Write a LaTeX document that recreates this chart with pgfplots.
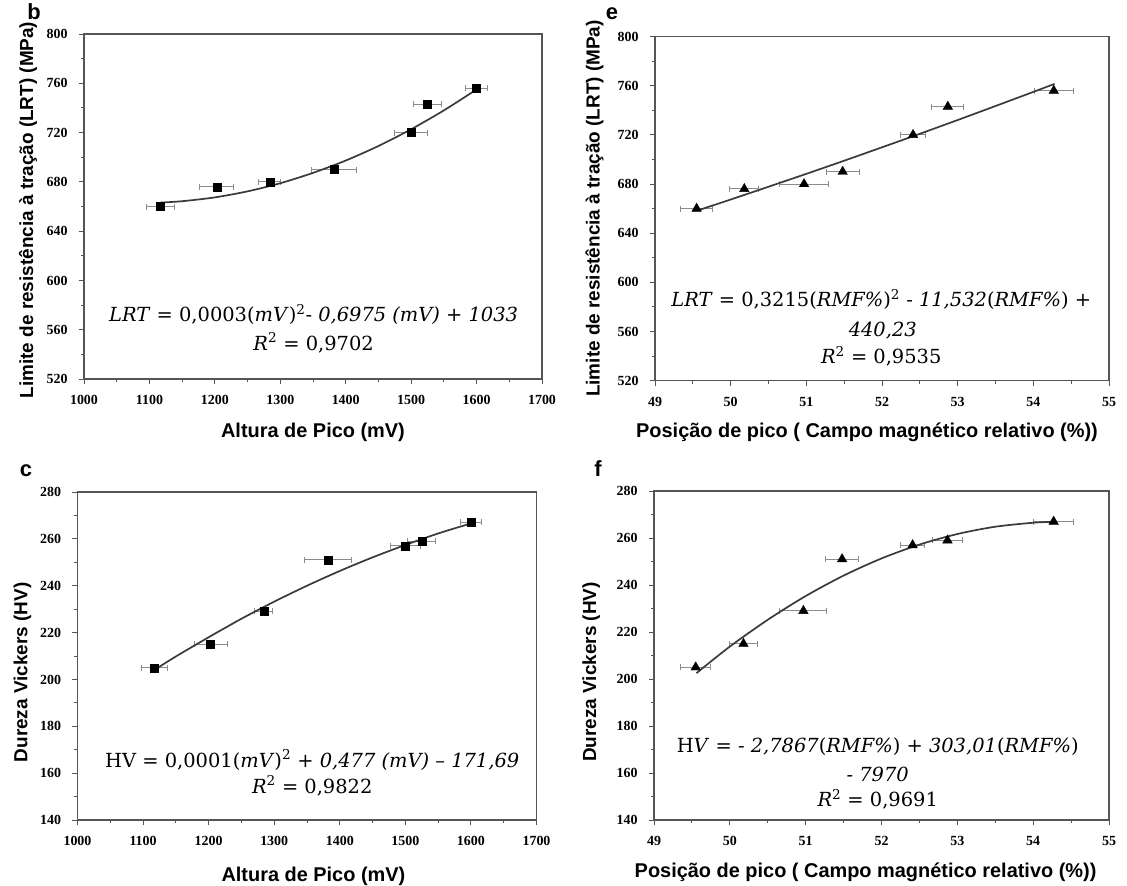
\documentclass[border=0pt]{standalone}
\usepackage{fontspec}
\setmainfont{Liberation Serif}
\setsansfont{Liberation Sans}
\newfontfamily\eqfont{DejaVu Serif}
\usepackage{pgfplots}
\pgfplotsset{compat=1.18}

\definecolor{boxgray}{HTML}{555555}
\definecolor{fitgray}{HTML}{3A3A3A}
\definecolor{errgray}{HTML}{8C8C8C}

\pgfplotsset{
  panel/.style={
    scale only axis,
    axis line style={boxgray, line width=1.7bp},
    tick style={boxgray, line width=1bp},
    tick align=outside,
    xtick pos=bottom, ytick pos=left,
    major tick length=5bp, minor tick length=3bp,
    minor tick num=1,
    tick label style={font=\fontsize{14}{16}\selectfont\bfseries},
    /pgf/number format/assume math mode=true,
    /pgf/number format/1000 sep={},
    xticklabel style={yshift=-8bp},
    yticklabel style={xshift=-8bp},
    xlabel style={font=\fontsize{20}{23}\selectfont\sffamily\bfseries},
    ylabel style={font=\fontsize{19}{22}\selectfont\sffamily\bfseries},
    clip=false,
  },
  errx/.style={
    only marks, mark=none,
    error bars/.cd, x dir=both, x explicit,
    error bar style={draw=errgray, line width=1bp},
    error mark options={draw=errgray, rotate=90, mark size=3bp, line width=1bp},
  },
  fit/.style={fitgray, line width=1.7bp, smooth, mark=none},
  sqpt/.style={only marks, mark=square*, mark size=4bp, black},
  tript/.style={only marks, mark=triangle*, mark size=5.5bp, black},
}
\newcommand{\eqsize}{\eqfont\fontsize{19.5}{22}\selectfont}

\begin{document}
\begin{tikzpicture}
\path[use as bounding box] (0,0) rectangle (1127bp,-886bp);

% ---------------- b : LRT vs peak height ----------------
\begin{axis}[panel, at={(84bp,-379bp)}, anchor=south west,
  width=458bp, height=345bp,
  xmin=1000, xmax=1700, ymin=520, ymax=800,
  xtick={1000,1100,...,1700}, ytick={520,560,...,800},
  xlabel={Altura de Pico (mV)},
  ylabel={Limite de resistência à tração (LRT) (MPa)},
  xlabel style={at={(axis description cs:0.5,-0.155)}, anchor=center},
  ylabel style={at={(axis description cs:-0.122,0.49)}, anchor=center}]
\addplot[errx] coordinates {
  (1117,660) +- (21,0)
  (1203,676) +- (26,0)
  (1284,680) +- (17,0)
  (1382,690) +- (35,0)
  (1500,720) +- (25,0)
  (1525,743) +- (21,0)
  (1600,756) +- (17,0)
};
\addplot[fit] coordinates {
  (1117,663.2) (1150,664.3) (1200,667.4) (1250,672.3) (1300,678.9)
  (1350,687.3) (1400,697.3) (1450,709.1) (1500,722.7) (1550,738.0)
  (1600,755.0)
};
\addplot[sqpt] coordinates {
  (1117,660) (1203,676) (1284,680) (1382,690) (1500,720) (1525,743) (1600,756)
};
\node[font=\eqsize] at (axis cs:1351,572.5)
  {\textit{LRT} = 0,0003(\textit{mV})\textsuperscript{2}- \textit{0,6975 (mV) + 1033}};
\node[font=\eqsize] at (axis cs:1351,549.4)
  {\textit{R}\textsuperscript{2} = 0,9702};
\end{axis}

% ---------------- e : LRT vs peak position ----------------
\begin{axis}[panel, at={(655bp,-380.6bp)}, anchor=south west,
  width=454bp, height=344bp,
  xmin=49, xmax=55, ymin=520, ymax=800,
  xtick={49,...,55}, ytick={520,560,...,800},
  xlabel={Posição de pico ( Campo magnético relativo (\%))},
  ylabel={Limite de resistência à tração (LRT) (MPa)},
  xlabel style={at={(axis description cs:0.467,-0.149)}, anchor=center},
  ylabel style={at={(axis description cs:-0.133,0.5)}, anchor=center}]
\addplot[errx] coordinates {
  (49.55,660) +- (0.21,0)
  (50.18,676) +- (0.19,0)
  (50.97,680) +- (0.32,0)
  (51.48,690) +- (0.22,0)
  (52.41,720) +- (0.16,0)
  (52.87,743) +- (0.21,0)
  (54.27,756) +- (0.26,0)
};
\addplot[fit] coordinates {
  (49.56,658.4) (50.0,667.4) (50.5,677.8) (51.0,688.3) (51.5,699.0)
  (52.0,709.9) (52.5,720.9) (53.0,732.1) (53.5,743.5) (54.0,755.0)
  (54.28,761.5)
};
\addplot[tript] coordinates {
  (49.55,660) (50.18,676) (50.97,680) (51.48,690) (52.41,720) (52.87,743) (54.27,756)
};
\node[font=\eqsize] at (axis cs:51.99,586)
  {\textit{LRT} = 0,3215(\textit{RMF\%})\textsuperscript{2} - \textit{11,532}(\textit{RMF\%}) \textit{+}};
\node[font=\eqsize] at (axis cs:52.01,560.3) {\textit{440,23}};
\node[font=\eqsize] at (axis cs:51.99,540)
  {\textit{R}\textsuperscript{2} = 0,9535};
\end{axis}

% ---------------- c : hardness vs peak height ----------------
\begin{axis}[panel, at={(77.5bp,-820bp)}, anchor=south west,
  width=459bp, height=328bp,
  xmin=1000, xmax=1700, ymin=140, ymax=280,
  xtick={1000,1100,...,1700}, ytick={140,160,...,280},
  xlabel={Altura de Pico (mV)},
  ylabel={Dureza Vickers (HV)},
  xlabel style={at={(axis description cs:0.514,-0.171)}, anchor=center},
  ylabel style={at={(axis description cs:-0.12,0.45)}, anchor=center}]
\addplot[errx] coordinates {
  (1117,205) +- (20,0)
  (1203,215) +- (25,0)
  (1284,229) +- (14,0)
  (1382,251) +- (36,0)
  (1500,257) +- (23,0)
  (1525,259) +- (21,0)
  (1600,267) +- (16,0)
};
\addplot[fit] coordinates {
  (1117,204.0) (1150,209.8) (1200,218.0) (1250,225.9) (1300,233.2)
  (1350,240.0) (1400,246.3) (1450,252.1) (1500,257.4) (1550,262.3)
  (1600,266.6)
};
\addplot[sqpt] coordinates {
  (1117,205) (1203,215) (1284,229) (1382,251) (1500,257) (1525,259) (1600,267)
};
\node[font=\eqsize] at (axis cs:1358,165.7)
  {HV = 0,0001(\textit{mV})\textsuperscript{2} + \textit{0,477 (mV) – 171,69}};
\node[font=\eqsize] at (axis cs:1358,154.7)
  {\textit{R}\textsuperscript{2} = 0,9822};
\end{axis}

% ---------------- f : hardness vs peak position ----------------
\begin{axis}[panel, at={(654bp,-820bp)}, anchor=south west,
  width=455bp, height=329bp,
  xmin=49, xmax=55, ymin=140, ymax=280,
  xtick={49,...,55}, ytick={140,160,...,280},
  xlabel={Posição de pico ( Campo magnético relativo (\%))},
  ylabel={Dureza Vickers (HV)},
  xlabel style={at={(axis description cs:0.465,-0.159)}, anchor=center},
  ylabel style={at={(axis description cs:-0.138,0.45)}, anchor=center}]
\addplot[errx] coordinates {
  (49.55,205) +- (0.20,0)
  (50.18,215) +- (0.19,0)
  (50.97,229) +- (0.31,0)
  (51.48,251) +- (0.22,0)
  (52.41,257) +- (0.16,0)
  (52.87,259) +- (0.20,0)
  (54.27,267) +- (0.26,0)
};
\addplot[fit] coordinates {
  (49.56,202.5) (50.0,213.8) (50.5,225.2) (51.0,235.3) (51.5,244.0)
  (52.0,251.3) (52.5,257.2) (53.0,261.7) (53.5,264.8) (54.0,266.5)
  (54.28,266.9)
};
\addplot[tript] coordinates {
  (49.55,205) (50.18,215) (50.97,229) (51.48,251) (52.41,257) (52.87,259) (54.27,267)
};
\node[font=\eqsize] at (axis cs:51.95,171.2)
  {H\textit{V} = \textit{- 2,7867}(\textit{RMF\%}) \textit{+ 303,01}(\textit{RMF\%})};
\node[font=\eqsize] at (axis cs:51.95,159.6) {\textit{- 7970}};
\node[font=\eqsize] at (axis cs:51.95,148.9)
  {\textit{R}\textsuperscript{2} = 0,9691};
\end{axis}

% panel letters
\begin{scope}[every node/.style={font=\fontsize{22}{24}\selectfont\sffamily\bfseries}]
\node at (34bp,-12bp) {b};
\node at (612bp,-14bp) {e};
\node at (26bp,-471bp) {c};
\node at (598bp,-469bp) {f};
\end{scope}
\end{tikzpicture}
\end{document}
